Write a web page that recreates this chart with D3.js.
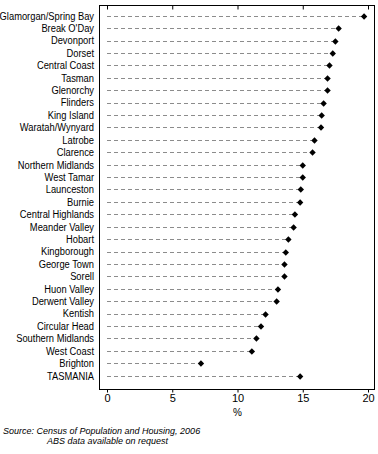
<!DOCTYPE html>
<html>
<head>
<meta charset="utf-8">
<script src="https://cdn.jsdelivr.net/npm/d3@7"></script>
<style>
  body { margin: 0; background: #fff; }
  svg text { font-family: "Liberation Sans", Arial, sans-serif; }
</style>
</head>
<body>
<div id="chart"></div>
<script>
// regions, top to bottom
var regions = [
  "Glamorgan/Spring Bay", "Break O'Day", "Devonport", "Dorset", "Central Coast",
  "Tasman", "Glenorchy", "Flinders", "King Island", "Waratah/Wynyard",
  "Latrobe", "Clarence", "Northern Midlands", "West Tamar", "Launceston",
  "Burnie", "Central Highlands", "Meander Valley", "Hobart", "Kingborough",
  "George Town", "Sorell", "Huon Valley", "Derwent Valley", "Kentish",
  "Circular Head", "Southern Midlands", "West Coast", "Brighton", "TASMANIA"
];
// percent values
var values = [
  19.7, 17.75, 17.5, 17.3, 17.05,
  16.9, 16.9, 16.6, 16.45, 16.4,
  15.9, 15.75, 15.0, 15.0, 14.85,
  14.8, 14.4, 14.3, 13.9, 13.7,
  13.6, 13.6, 13.1, 13.0, 12.15,
  11.8, 11.45, 11.1, 7.2, 14.8
];
var xTicks = [0, 5, 10, 15, 20];
var xTitle = "%";
var sourceLines = ["Source: Census of Population and Housing, 2006", "ABS data available on request"];

var width = 378, height = 454;
var frame = { left: 99, right: 374, top: 5, bottom: 389 };
var squeeze = 0.85; // no narrow font installed, so squeeze the labels

var svg = d3.select("#chart").append("svg")
  .attr("width", width)
  .attr("height", height);

var xScale = d3.scaleLinear().domain([0, 20]).range([107, 368]);
var yScale = d3.scalePoint().domain(regions).range([15.7, 375.7]);

// frame
svg.append("rect")
  .attr("x", frame.left + 0.5)
  .attr("y", frame.top + 0.5)
  .attr("width", frame.right - frame.left)
  .attr("height", frame.bottom - frame.top)
  .attr("fill", "none")
  .attr("stroke", "#000")
  .attr("stroke-width", 1);

// top ticks (inward)
svg.append("g")
  .attr("transform", "translate(0," + (frame.top + 0.5) + ")")
  .call(d3.axisTop(xScale).tickValues(xTicks).tickSize(-4).tickFormat(""))
  .call(function (g) { g.select(".domain").remove(); });

// bottom axis
var xAxis = svg.append("g")
  .attr("transform", "translate(0," + (frame.bottom + 0.5) + ")")
  .call(d3.axisBottom(xScale).tickValues(xTicks).tickSize(3).tickPadding(2).tickFormat(d3.format("d")));
xAxis.select(".domain").remove();
xAxis.selectAll("text").attr("font-size", "11px").attr("fill", "#000");

svg.append("text")
  .attr("x", xScale(10))
  .attr("y", 416)
  .attr("text-anchor", "middle")
  .attr("font-size", "10px")
  .text(xTitle);

// category labels
svg.append("g")
  .attr("transform", "scale(" + squeeze + ",1)")
  .selectAll("text")
  .data(regions)
  .enter()
  .append("text")
  .attr("x", 94 / squeeze)
  .attr("y", function (d) { return yScale(d); })
  .attr("dy", "0.35em")
  .attr("text-anchor", "end")
  .attr("font-size", "11px")
  .text(function (d) { return d; });

// dashed leader lines
svg.append("g")
  .selectAll("line")
  .data(regions)
  .enter()
  .append("line")
  .attr("x1", xScale(0))
  .attr("x2", function (d, i) { return xScale(values[i]); })
  .attr("y1", function (d) { return Math.round(yScale(d)) + 0.5; })
  .attr("y2", function (d) { return Math.round(yScale(d)) + 0.5; })
  .attr("stroke", "#8c8c8c")
  .attr("stroke-width", 1)
  .attr("stroke-dasharray", "4,3");

// diamond markers
var diamond = d3.symbol().type(d3.symbolDiamond2).size(26);
svg.append("g")
  .selectAll("path")
  .data(regions)
  .enter()
  .append("path")
  .attr("d", diamond)
  .attr("transform", function (d, i) {
    return "translate(" + xScale(values[i]) + "," + (Math.round(yScale(d)) + 0.5) + ")";
  })
  .attr("fill", "#000");

// source note
svg.append("g")
  .selectAll("text")
  .data(sourceLines)
  .enter()
  .append("text")
  .attr("x", function (d, i) { return i == 0 ? 3 : 47; })
  .attr("y", function (d, i) { return 434 + i * 10; })
  .attr("font-size", "9px")
  .attr("font-style", "italic")
  .text(function (d) { return d; });
</script>
</body>
</html>
